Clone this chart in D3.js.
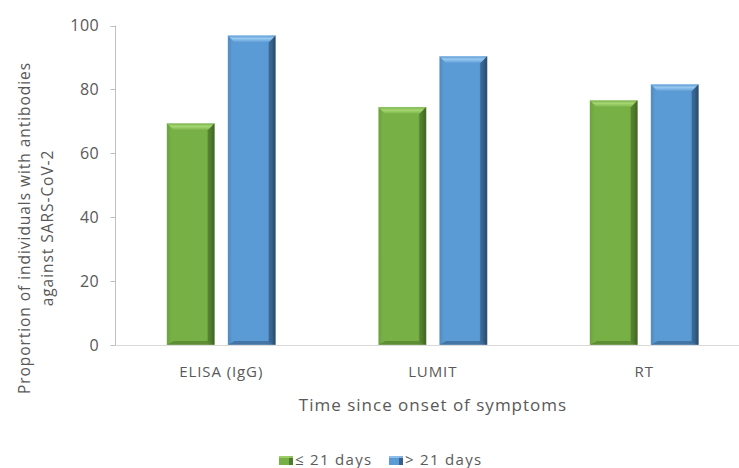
<!DOCTYPE html>
<html>
<head>
<meta charset="utf-8">
<script src="https://cdn.jsdelivr.net/npm/d3@7"></script>
<style>
  body { margin: 0; background: #fff; }
  svg { display: block; }
  text { font-family: "Open Sans", Lato, sans-serif; fill: #595959; }
</style>
</head>
<body>
<svg id="chart" width="739" height="468"></svg>
<script>
const categories = ["ELISA (IgG)", "LUMIT", "RT"];
const seriesNames = ["≤ 21 days", "> 21 days"];
const shortValues = [69.4, 74.5, 76.6];
const longValues = [96.9, 90.4, 81.6];
const yTicks = [0, 20, 40, 60, 80, 100];
const yTitle = ["Proportion of individuals with antibodies", "against SARS-CoV-2"];
const xTitle = "Time since onset of symptoms";

const colors = {
  "≤ 21 days": { base: "#77b146", light: "#a6d672", dark: "#3f6422", mid: "#6a9f3d" },
  "> 21 days": { base: "#5b9bd5", light: "#98c8f0", dark: "#27496b", mid: "#4f89bd" }
};

const svg = d3.select("#chart");
const defs = svg.append("defs");

const x0 = d3.scaleBand().domain(categories).range([115.5, 750]).padding(0);
const x1 = d3.scaleBand().domain(seriesNames).range([0, x0.bandwidth()])
  .paddingInner(0.213).paddingOuter(0.84);
const y = d3.scaleLinear().domain([0, 100]).range([345, 25.5]);

seriesNames.forEach((s, i) => {
  const c = colors[s];
  const g = defs.append("linearGradient").attr("id", "body" + i)
    .attr("x1", 0).attr("x2", 1).attr("y1", 0).attr("y2", 0);
  g.append("stop").attr("offset", 0).attr("stop-color", c.mid);
  g.append("stop").attr("offset", 0.1).attr("stop-color", c.base);
  g.append("stop").attr("offset", 0.82).attr("stop-color", c.base);
  g.append("stop").attr("offset", 0.9).attr("stop-color", c.mid);
  g.append("stop").attr("offset", 1).attr("stop-color", c.dark);
  const t = defs.append("linearGradient").attr("id", "top" + i)
    .attr("x1", 0).attr("x2", 0).attr("y1", 0).attr("y2", 1);
  t.append("stop").attr("offset", 0).attr("stop-color", c.base);
  t.append("stop").attr("offset", 0.45).attr("stop-color", c.light);
  t.append("stop").attr("offset", 1).attr("stop-color", c.base);
});

const data = [];
categories.forEach((cat, ci) => {
  [shortValues, longValues].forEach((arr, si) => {
    data.push({ cat, series: seriesNames[si], si, value: arr[ci] });
  });
});

svg.append("line").attr("x1", x0.range()[0]).attr("x2", 739)
  .attr("y1", y(0) + 0.5).attr("y2", y(0) + 0.5)
  .attr("stroke", "#d9d9d9").attr("stroke-width", 1);
svg.append("line").attr("x1", x0.range()[0]).attr("x2", x0.range()[0])
  .attr("y1", y(100)).attr("y2", y(0) + 0.5)
  .attr("stroke", "#bfbfbf").attr("stroke-width", 1);

const yt = svg.append("g");
yTicks.forEach(t => {
  yt.append("line").attr("x1", x0.range()[0] - 5).attr("x2", x0.range()[0])
    .attr("y1", Math.round(y(t)) + 0.5).attr("y2", Math.round(y(t)) + 0.5)
    .attr("stroke", "#bfbfbf");
  yt.append("text").attr("x", 99).attr("y", y(t)).attr("dy", "0.36em")
    .attr("text-anchor", "end").style("font-size", "16px").style("letter-spacing", "0.4px").text(t);
});

const bars = svg.append("g").selectAll("g.bar").data(data).join("g").attr("class", "bar");
const bev = 7;
bars.each(function(d) {
  const g = d3.select(this);
  const bx = x0(d.cat) + x1(d.series);
  const bw = x1.bandwidth();
  const by = y(d.value);
  const bh = y(0) - by;
  const c = colors[d.series];
  g.append("rect").attr("x", bx).attr("y", by).attr("width", bw).attr("height", bh)
    .attr("fill", `url(#body${d.si})`);
  g.append("path")
    .attr("d", `M${bx},${by} L${bx + bw},${by} L${bx + bw - bev},${by + bev} L${bx + bev},${by + bev} Z`)
    .attr("fill", `url(#top${d.si})`);
  g.append("path")
    .attr("d", `M${bx},${by + bh} L${bx + bw},${by + bh} L${bx + bw - bev},${by + bh - 4} L${bx + bev},${by + bh - 4} Z`)
    .attr("fill", c.dark).attr("opacity", 0.45);
  g.append("path")
    .attr("d", `M${bx + bw},${by} L${bx + bw},${by + bh} L${bx + bw - bev},${by + bh - 4} L${bx + bw - bev},${by + bev} Z`)
    .attr("fill", c.dark).attr("opacity", 0.55);
  g.append("rect").attr("x", bx).attr("y", by).attr("width", bw).attr("height", bh)
    .attr("fill", "none").attr("stroke", "#ffffff").attr("stroke-opacity", 0.5).attr("stroke-width", 0.6);
});

svg.append("g").selectAll("text").data(categories).join("text")
  .attr("x", d => x0(d) + x0.bandwidth() / 2)
  .attr("y", 377)
  .attr("text-anchor", "middle")
  .style("font-size", "15px")
  .style("letter-spacing", "0.9px")
  .text(d => d);

svg.append("text").attr("x", 433).attr("y", 411).attr("text-anchor", "middle")
  .style("font-size", "17px").style("letter-spacing", "1px").text(xTitle);

const yg = svg.append("text").attr("transform", "translate(0,228) rotate(-90)")
  .attr("text-anchor", "middle").style("font-size", "15.5px").style("letter-spacing", "0.95px");
yg.append("tspan").attr("x", 0).attr("y", 30).text(yTitle[0]);
yg.append("tspan").attr("x", 0).attr("y", 53).text(yTitle[1]);

const legend = svg.append("g");
const legendX = [279, 389];
seriesNames.forEach((s, i) => {
  const c = colors[s];
  const lx = legendX[i];
  legend.append("rect").attr("x", lx).attr("y", 456).attr("width", 14).attr("height", 9)
    .attr("fill", c.base);
  legend.append("rect").attr("x", lx + 10).attr("y", 456).attr("width", 4).attr("height", 9)
    .attr("fill", c.dark).attr("opacity", 0.7);
  legend.append("rect").attr("x", lx).attr("y", 456).attr("width", 14).attr("height", 2)
    .attr("fill", c.light).attr("opacity", 0.8);
  legend.append("text").attr("x", lx + 16).attr("y", 464.5)
    .style("font-size", "15px").style("letter-spacing", "1.3px").text(s);
});
</script>
</body>
</html>
